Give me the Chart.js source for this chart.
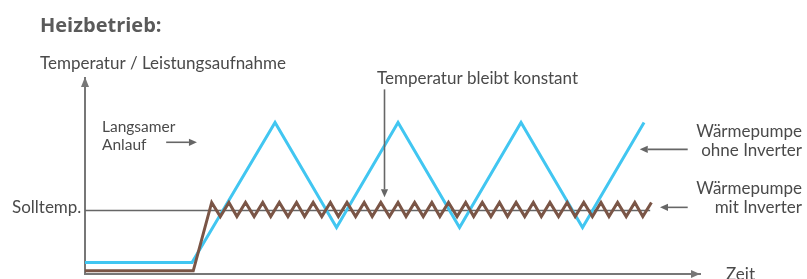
<!DOCTYPE html>
<html><head><meta charset="utf-8">
<script src="https://cdn.jsdelivr.net/npm/chart.js@4"></script>
<style>html,body{margin:0;padding:0;background:#fff;}#wrap{position:relative;width:807px;height:279px;}</style>
</head><body><div id="wrap"><canvas id="c" width="807" height="279"></canvas></div>
<script>
// ---- data (time units 0..100, temperature / power units 0..100) ----
const timeOhne = [0, 17.4, 30.9, 40.9, 50.9, 60.9, 70.9, 80.9, 90.9];
const tempOhne = [5.9, 5.9, 77.3, 23.7, 77.3, 23.7, 77.3, 23.7, 77.3];

const timeMit = [0, 17.6,
  20.6, 22.0, 23.4, 24.7, 26.1, 27.5, 28.9, 30.2, 31.6, 33.0,
  34.4, 35.7, 37.1, 38.5, 39.9, 41.2, 42.6, 44.0, 45.4, 46.7,
  48.1, 49.5, 50.9, 52.2, 53.6, 55.0, 56.4, 57.7, 59.1, 60.5,
  61.9, 63.2, 64.6, 66.0, 67.4, 68.7, 70.1, 71.5, 72.9, 74.2,
  75.6, 77.0, 78.4, 79.7, 81.1, 82.5, 83.9, 85.2, 86.6, 88.0,
  89.4, 90.7, 92.1];
const tempMit = [1.6, 1.6,
  36.5, 29.3, 36.5, 29.3, 36.5, 29.3, 36.5, 29.3, 36.5, 29.3,
  36.5, 29.3, 36.5, 29.3, 36.5, 29.3, 36.5, 29.3, 36.5, 29.3,
  36.5, 29.3, 36.5, 29.3, 36.5, 29.3, 36.5, 29.3, 36.5, 29.3,
  36.5, 29.3, 36.5, 29.3, 36.5, 29.3, 36.5, 29.3, 36.5, 29.3,
  36.5, 29.3, 36.5, 29.3, 36.5, 29.3, 36.5, 29.3, 36.5, 29.3,
  36.5, 29.3, 36.5];

const sollTime = [0, 91.9];
const sollTemp = 32.4;

const title = "Heizbetrieb:";
const yAxisLabel = "Temperatur / Leistungsaufnahme";
const xAxisLabel = "Zeit";
const sollLabel = "Solltemp.";
const anlaufLabel = ["Langsamer", "Anlauf"];
const konstantLabel = "Temperatur bleibt konstant";
const ohneLabel = ["Wärmepumpe", "ohne Inverter"];
const mitLabel = ["Wärmepumpe", "mit Inverter"];

// ---- build datasets ----
const pts = (xs, ys) => xs.map((x, i) => ({x: x, y: ys[i]}));
const sollData = sollTime.map(t => ({x: t, y: sollTemp}));

const BLUE = '#41c6f1', BROWN = '#7a5546', AXIS = '#777777', TXT = '#4a4a4a';
const BODY = '17px Lato';
const SMALL = '15.5px Lato';

const annot = {
  id: 'annot',
  afterDraw(chart) {
    const c = chart.ctx, xs = chart.scales.x, ys = chart.scales.y;
    const X = v => xs.getPixelForValue(v), Y = v => ys.getPixelForValue(v);
    c.save();
    // axis arrowheads
    c.fillStyle = AXIS;
    const L = xs.left, B = ys.bottom, T = ys.top, R = xs.right;
    c.beginPath(); c.moveTo(L, T - 1); c.lineTo(L - 4, T + 9); c.lineTo(L + 4, T + 9); c.closePath(); c.fill();
    c.beginPath(); c.moveTo(R, B); c.lineTo(R - 9, B - 4); c.lineTo(R - 9, B + 4); c.closePath(); c.fill();

    function arrow(x1, y1, x2, y2) {
      c.strokeStyle = '#666'; c.fillStyle = '#666'; c.lineWidth = 1.6;
      const a = Math.atan2(y2 - y1, x2 - x1), hl = 8, hw = 3.6;
      const bx = x2 - hl * Math.cos(a), by = y2 - hl * Math.sin(a);
      c.beginPath(); c.moveTo(x1, y1); c.lineTo(bx, by); c.stroke();
      c.beginPath(); c.moveTo(x2, y2);
      c.lineTo(bx + hw * Math.sin(a), by - hw * Math.cos(a));
      c.lineTo(bx - hw * Math.sin(a), by + hw * Math.cos(a));
      c.closePath(); c.fill();
    }
    arrow(X(13.2), Y(67.2), X(18.2), Y(67.2));
    arrow(X(48.7), Y(94.2), X(48.7), Y(39.1));
    arrow(X(98.0), Y(63.6), X(90.2), Y(63.6));
    arrow(X(98.0), Y(34.0), X(93.5), Y(34.0));

    // texts
    c.fillStyle = '#5a5a5a';
    c.font = 'bold 20px "Open Sans"';
    c.textBaseline = 'alphabetic'; c.textAlign = 'left';
    c.fillText(title, 40, 32);
    c.fillStyle = TXT; c.font = BODY;
    c.fillText(yAxisLabel, 40, 69);
    c.fillText(konstantLabel, 377, 84);
    c.fillText(sollLabel, 12, 213);
    c.fillText(xAxisLabel, 726, 280);
    c.font = SMALL;
    c.fillText(anlaufLabel[0], 102, 132);
    c.fillText(anlaufLabel[1], 102, 150);
    c.font = BODY;
    c.textAlign = 'right';
    c.fillText(ohneLabel[0], 802, 137);
    c.fillText(ohneLabel[1], 802, 156);
    c.fillText(mitLabel[0], 802, 194);
    c.fillText(mitLabel[1], 802, 213);
    c.restore();
  }
};

new Chart(document.getElementById('c'), {
  type: 'line',
  data: {
    datasets: [
      {label: 'Solltemp.', data: sollData, borderColor: '#666', borderWidth: 1.5, order: 3},
      {label: 'Wärmepumpe ohne Inverter', data: pts(timeOhne, tempOhne), borderColor: BLUE, borderWidth: 3, order: 2},
      {label: 'Wärmepumpe mit Inverter', data: pts(timeMit, tempMit), borderColor: BROWN, borderWidth: 3, borderJoinStyle: 'miter', order: 1}
    ]
  },
  options: {
    responsive: false, animation: false, devicePixelRatio: 1,
    layout: {padding: {left: 85, right: 107, top: 78, bottom: 5}},
    elements: {point: {radius: 0, hoverRadius: 0}, line: {tension: 0}},
    plugins: {legend: {display: false}, tooltip: {enabled: false}, title: {display: false}},
    scales: {
      x: {type: 'linear', min: 0, max: 100, ticks: {display: false},
          grid: {display: false, drawTicks: false}, border: {display: true, color: AXIS, width: 2},
          afterFit(s) { s.height = 0; }},
      y: {type: 'linear', min: 0, max: 100, ticks: {display: false},
          grid: {display: false, drawTicks: false}, border: {display: true, color: AXIS, width: 2},
          afterFit(s) { s.width = 0; }}
    }
  },
  plugins: [annot]
});
</script>
</body></html>
